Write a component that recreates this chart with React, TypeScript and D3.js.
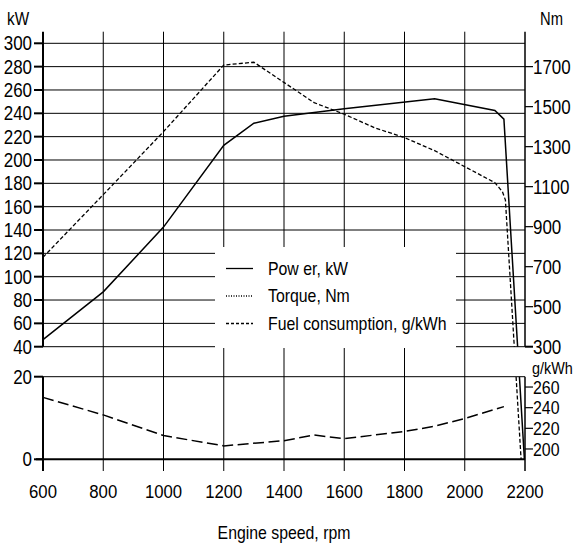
import React from "react";
import * as d3 from "d3";

const rpmTicks = [600, 800, 1000, 1200, 1400, 1600, 1800, 2000, 2200];
const kwTicks = [40, 60, 80, 100, 120, 140, 160, 180, 200, 220, 240, 260, 280, 300];
const nmTicks = [300, 500, 700, 900, 1100, 1300, 1500, 1700];
const lowTicks = [0, 20];
const fuelTicks = [200, 220, 240, 260];

const powerRpm = [600, 800, 1000, 1200, 1300, 1400, 1600, 1900, 2100, 2130];
const powerKw = [46, 87, 142.5, 212.5, 231.5, 237.5, 244, 252.5, 242.5, 235];
const powerDropRpm = 2198;

const torqueRpm = [600, 800, 1000, 1200, 1300, 1500, 1600, 1700, 1800, 1900, 2100, 2125, 2135];
const torqueNm = [747, 1060, 1375, 1708, 1722, 1520, 1462, 1395, 1345, 1280, 1120, 1075, 1033];
const torqueDropRpm = 2187;

const fuelRpm = [600, 800, 1000, 1200, 1400, 1500, 1600, 1800, 1900, 2000, 2130];
const fuelGkwh = [250, 233, 213, 203, 208, 213.5, 210, 217, 222, 229.5, 241];

const legendItems = [
  { label: "Pow er, kW", dash: "none" },
  { label: "Torque, Nm", dash: "1,1.5" },
  { label: "Fuel consumption, g/kWh", dash: "3,2" },
];

const FONT = "'Liberation Sans', Arial, sans-serif";

type TProps = {
  x: number;
  y: number;
  size: number;
  sx: number;
  anchor?: "start" | "middle" | "end";
  dy?: string;
  children: React.ReactNode;
};

function NText({ x, y, size, sx, anchor = "start", dy, children }: TProps) {
  return (
    <text
      transform={`translate(${x},${y}) scale(${sx},1)`}
      textAnchor={anchor}
      fontSize={size}
      dy={dy}
      fill="#000"
    >
      {children}
    </text>
  );
}

export default function App() {
  const W = 573, H = 545;
  const L = 43, R = 525;
  const topY = 43.3, topB = 346.7, lowT = 376.7, lowB = 459.3;
  const x = d3.scaleLinear().domain([600, 2200]).range([L, R]);
  const yKw = d3.scaleLinear().domain([40, 300]).range([topB, topY]);
  const yNm = d3.scaleLinear().domain([300, 300 + (260 * 1400) / 240]).range([topB, topY]);
  const yLow = d3.scaleLinear().domain([0, 20]).range([lowB, lowT]);
  const yFuel = d3.scaleLinear().domain([190, 270]).range([lowB, lowT]);

  const line = d3.line<[number, number]>().x((d) => d[0]).y((d) => d[1]);

  const powerPts: [number, number][] = powerRpm.map((r, i) => [x(r), yKw(powerKw[i])]);
  powerPts.push([x(powerDropRpm), yLow(0)]);
  const torquePts: [number, number][] = torqueRpm.map((r, i) => [x(r), yNm(torqueNm[i])]);
  torquePts.push([x(torqueDropRpm), yLow(0)]);
  const fuelPts: [number, number][] = fuelRpm.map((r, i) => [x(r), yFuel(fuelGkwh[i])]);

  const gridTop = 31.7;
  const tickBottom = 471;
  const legX = 215, legY = 247, legW = 241, legH = 101;

  return (
    <svg width={W} height={H} style={{ display: "block", position: "absolute", left: 0, top: 0 }} fontFamily={FONT}>
      <defs>
        <clipPath id="panels">
          <rect x={L - 2} y={topY - 2} width={R - L + 6} height={topB - topY + 2} />
          <rect x={L - 2} y={lowT} width={R - L + 6} height={lowB - lowT + 1} />
        </clipPath>
      </defs>
      <rect x={0} y={0} width={W} height={H} fill="#fff" />

      {kwTicks.map((t) => (
        <line key={"hk" + t} x1={L} x2={R} y1={yKw(t)} y2={yKw(t)} stroke="#000" strokeWidth={1} />
      ))}
      {rpmTicks.slice(1, -1).map((t) => (
        <line key={"vg" + t} x1={x(t)} x2={x(t)} y1={gridTop} y2={tickBottom} stroke="#000" strokeWidth={1} />
      ))}
      <line x1={L} x2={R} y1={lowT} y2={lowT} stroke="#000" strokeWidth={1} />

      <rect x={legX} y={legY} width={legW} height={legH} fill="#fff" />

      <line x1={L} x2={L} y1={gridTop} y2={topB} stroke="#000" strokeWidth={2} />
      <line x1={R} x2={R} y1={gridTop} y2={topB} stroke="#000" strokeWidth={1.5} />
      <line x1={L} x2={L} y1={lowT} y2={tickBottom} stroke="#000" strokeWidth={2} />
      <line x1={R} x2={R} y1={lowT} y2={tickBottom} stroke="#000" strokeWidth={1.5} />
      <line x1={L - 7} x2={R} y1={lowB} y2={lowB} stroke="#000" strokeWidth={2} />

      {kwTicks.map((t) => (
        <g key={"lk" + t}>
          <line x1={L - 9} x2={L} y1={yKw(t)} y2={yKw(t)} stroke="#000" strokeWidth={2} />
          <NText x={L - 11} y={yKw(t)} dy="0.36em" anchor="end" size={19.5} sx={0.87}>{t}</NText>
        </g>
      ))}
      {nmTicks.map((t) => (
        <g key={"rn" + t}>
          <line x1={R} x2={R + 8} y1={yNm(t)} y2={yNm(t)} stroke="#000" strokeWidth={t === 300 ? 2 : 1.2} />
          <NText x={R + 8} y={yNm(t)} dy="0.36em" size={19.5} sx={0.87}>{t}</NText>
        </g>
      ))}
      {lowTicks.map((t) => (
        <g key={"ll" + t}>
          <line x1={L - 9} x2={L} y1={yLow(t)} y2={yLow(t)} stroke="#000" strokeWidth={2} />
          <NText x={L - 11} y={yLow(t)} dy="0.36em" anchor="end" size={19.5} sx={0.87}>{t}</NText>
        </g>
      ))}
      {fuelTicks.map((t) => (
        <g key={"rf" + t}>
          <line x1={R} x2={R + 8} y1={yFuel(t)} y2={yFuel(t)} stroke="#000" strokeWidth={1.2} />
          <NText x={R + 8} y={yFuel(t)} dy="0.36em" size={18.5} sx={0.86}>{t}</NText>
        </g>
      ))}
      {rpmTicks.map((t) => (
        <NText key={"xt" + t} x={x(t)} y={498} anchor="middle" size={18.6} sx={0.9}>{t}</NText>
      ))}

      <NText x={7} y={25} size={18} sx={0.85}>kW</NText>
      <NText x={540} y={25} size={18} sx={0.82}>Nm</NText>
      <NText x={532} y={374} size={16} sx={0.9}>g/kWh</NText>
      <NText x={284} y={539} anchor="middle" size={18} sx={0.88}>Engine speed, rpm</NText>

      <g clipPath="url(#panels)" fill="none" stroke="#000">
        <path d={line(fuelPts) || ""} strokeWidth={1.5} strokeDasharray="11,4.5" />
        <path d={line(torquePts) || ""} strokeWidth={1.3} strokeDasharray="4,2.2" />
        <path d={line(powerPts) || ""} strokeWidth={1.5} />
      </g>

      {legendItems.map((it, i) => {
        const cy = 268.5 + i * 27.5;
        return (
          <g key={"lg" + i}>
            <line x1={226} x2={253} y1={cy} y2={cy} stroke="#000" strokeWidth={1.3} strokeDasharray={it.dash} />
            <NText x={268} y={cy} dy="0.36em" size={18} sx={0.88}>{it.label}</NText>
          </g>
        );
      })}
    </svg>
  );
}
